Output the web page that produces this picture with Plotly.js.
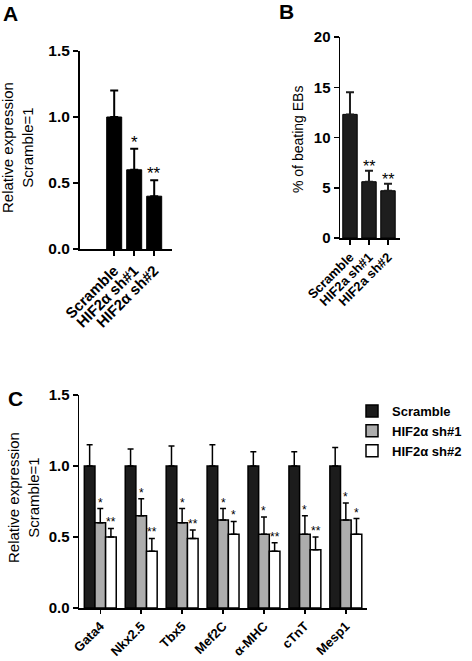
<!DOCTYPE html>
<html>
<head>
<meta charset="utf-8">
<script src="https://cdn.plot.ly/plotly-3.0.1.min.js"></script>
<style>html,body{margin:0;padding:0;background:#fff;}#chart{width:472px;height:661px;}</style>
</head>
<body>
<div id="chart"></div>
<script>
// ---------- DATA ----------
const catsA = ["Scramble", "HIF2α sh#1", "HIF2α sh#2"];
const valsA = [1.0, 0.6, 0.4];
const errA = [0.2, 0.16, 0.12];
const starsA = ["", "*", "**"];

const catsB = ["Scramble", "HIF2a sh#1", "HIF2a sh#2"];
const valsB = [12.3, 5.6, 4.7];
const errB = [2.2, 1.1, 0.7];
const starsB = ["", "**", "**"];

const genesC = ["Gata4", "Nkx2.5", "Tbx5", "Mef2C", "α-MHC", "cTnT", "Mesp1"];
const seriesNames = ["Scramble", "HIF2α sh#1", "HIF2α sh#2"];
const scrambleC = [1.0, 1.0, 1.0, 1.0, 1.0, 1.0, 1.0];
const scrambleErrC = [0.15, 0.12, 0.14, 0.15, 0.10, 0.10, 0.13];
const sh1C = [0.60, 0.65, 0.60, 0.62, 0.52, 0.52, 0.62];
const sh1ErrC = [0.10, 0.12, 0.10, 0.08, 0.12, 0.13, 0.12];
const sh2C = [0.50, 0.40, 0.49, 0.52, 0.40, 0.41, 0.52];
const sh2ErrC = [0.06, 0.09, 0.06, 0.09, 0.06, 0.09, 0.11];
const sh1StarsC = ["*", "*", "*", "*", "*", "*", "*"];
const sh2StarsC = ["**", "**", "**", "*", "**", "**", "*"];

// ---------- LAYOUT HELPERS ----------
const W = 472, H = 661;
const fx = p => p / W;
const fy = p => 1 - p / H;
const FONT = "Liberation Sans, Arial, Helvetica, sans-serif";
const BOLD = {family: FONT, weight: 700, color: "#000"};
const bargapC = 0.22;

const traces = [];
// Panel A
traces.push({
  type: "bar", x: catsA, y: valsA, xaxis: "x", yaxis: "y", width: 0.75,
  marker: {color: "#000", line: {color: "#000", width: 1}},
  error_y: {type: "data", array: errA, arrayminus: errA.map(() => 0), symmetric: false,
            color: "#000", thickness: 2, width: 4},
  showlegend: false, hoverinfo: "skip"
});
// Panel B
traces.push({
  type: "bar", x: catsB, y: valsB, xaxis: "x2", yaxis: "y2", width: 0.76,
  marker: {color: "#1e1e1e", line: {color: "#000", width: 1}},
  error_y: {type: "data", array: errB, arrayminus: errB.map(() => 0), symmetric: false,
            color: "#1e1e1e", thickness: 2, width: 4},
  showlegend: false, hoverinfo: "skip"
});
// Panel C
const cSeries = [
  {y: scrambleC, e: scrambleErrC, fill: "#1c1c1c"},
  {y: sh1C, e: sh1ErrC, fill: "#adadad"},
  {y: sh2C, e: sh2ErrC, fill: "#ffffff"}
];
cSeries.forEach((s, k) => {
  traces.push({
    type: "bar", name: seriesNames[k], x: genesC, y: s.y, xaxis: "x3", yaxis: "y3",
    marker: {color: s.fill, line: {color: "#000", width: 1.5}},
    error_y: {type: "data", array: s.e, arrayminus: s.e.map(() => 0), symmetric: false,
              color: "#000", thickness: 1.5, width: 3},
    hoverinfo: "skip"
  });
});

// ---------- ANNOTATIONS ----------
const ann = [];
const paperText = (text, px, py, size, extra) => Object.assign({
  text: text, x: fx(px), y: fy(py), xref: "paper", yref: "paper",
  xanchor: "center", yanchor: "middle", showarrow: false,
  font: {family: FONT, size: size, color: "#000"}
}, extra || {});
// panel letters
ann.push(paperText("<b>A</b>", 10, 14, 21));
ann.push(paperText("<b>B</b>", 286, 12, 21));
ann.push(paperText("<b>C</b>", 15, 398, 21));
// y titles
ann.push(paperText("Relative expression<br>Scramble=1", 18, 148, 15, {textangle: -90}));
ann.push(paperText("% of beating EBs", 298, 140, 14, {textangle: -90}));
ann.push(paperText("Relative expression<br>Scramble=1", 23, 498, 15, {textangle: -90}));
// significance stars
catsA.forEach((c, i) => {
  if (starsA[i]) ann.push({text: starsA[i], x: i, y: valsA[i] + errA[i], xref: "x", yref: "y", xanchor: "center", yanchor: "bottom", yshift: -5, showarrow: false, font: {family: FONT, size: 17, color: "#000"}});
});
catsB.forEach((c, i) => {
  if (starsB[i]) ann.push({text: starsB[i], x: i, y: valsB[i] + errB[i], xref: "x2", yref: "y2", xanchor: "center", yanchor: "bottom", yshift: -6, showarrow: false, font: {family: FONT, size: 16, color: "#000"}});
});
// stars C (grouped bar offsets derived from bargap)
const bw = (1 - bargapC) / 3;
genesC.forEach((g, i) => {
  ann.push({text: sh1StarsC[i], x: i, y: sh1C[i] + sh1ErrC[i], xref: "x3", yref: "y3", xanchor: "center", yanchor: "bottom", yshift: -3, showarrow: false, font: {family: FONT, size: 12, color: "#000"}});
  ann.push({text: sh2StarsC[i], x: i + bw, y: sh2C[i] + sh2ErrC[i], xref: "x3", yref: "y3", xanchor: "center", yanchor: "bottom", yshift: -3, showarrow: false, font: {family: FONT, size: 12, color: "#000"}});
});

const axCommon = {
  showline: true, linecolor: "#000", showgrid: false, zeroline: false,
  ticks: "outside", tickcolor: "#000", fixedrange: true
};

const layout = {
  width: W, height: H,
  margin: {l: 0, r: 0, t: 0, b: 0, pad: 0},
  paper_bgcolor: "#fff", plot_bgcolor: "rgba(0,0,0,0)",
  font: {family: FONT, color: "#000"},
  barmode: "group", bargap: bargapC, bargroupgap: 0,
  showlegend: true,
  legend: {x: fx(352), y: fy(396), xanchor: "left", yanchor: "top",
           font: {family: FONT, size: 13, weight: 700, color: "#000"},
           bgcolor: "rgba(0,0,0,0)", tracegroupgap: 0, itemclick: false},
  xaxis: Object.assign({}, axCommon, {domain: [fx(80), fx(172)], range: [-1.71, 2.89], type: "category",
    anchor: "y", linewidth: 2, tickwidth: 2, ticklen: 5, tickangle: -45, tickfont: Object.assign({size: 15}, BOLD)}),
  yaxis: Object.assign({}, axCommon, {domain: [fy(249), fy(51)], range: [0, 1.5], dtick: 0.5, tickformat: ".1f",
    anchor: "x", linewidth: 2, tickwidth: 2, ticklen: 5, tickfont: Object.assign({size: 15.5}, BOLD)}),
  xaxis2: Object.assign({}, axCommon, {domain: [fx(340), fx(400)], range: [-0.526, 2.632], type: "category",
    anchor: "y2", linewidth: 1.5, tickwidth: 1.5, ticklen: 5, tickangle: -45, tickfont: Object.assign({size: 13}, BOLD)}),
  yaxis2: Object.assign({}, axCommon, {domain: [fy(238), fy(37)], range: [0, 20], dtick: 5,
    anchor: "x2", linewidth: 1.5, tickwidth: 1.5, ticklen: 5, tickfont: Object.assign({size: 15}, BOLD)}),
  xaxis3: Object.assign({}, axCommon, {domain: [fx(79), fx(366.7)], range: [-0.52, 6.51], type: "category",
    anchor: "y3", linewidth: 1.5, tickwidth: 1.5, ticklen: 4, tickangle: -45, tickfont: Object.assign({size: 13}, BOLD)}),
  yaxis3: Object.assign({}, axCommon, {domain: [fy(608), fy(395)], range: [0, 1.5], dtick: 0.5, tickformat: ".1f",
    anchor: "x3", linewidth: 1.5, tickwidth: 1.5, ticklen: 5, tickfont: Object.assign({size: 15}, BOLD)}),
  annotations: ann
};

Plotly.newPlot("chart", traces, layout, {displayModeBar: false, staticPlot: true});
</script>
</body>
</html>
